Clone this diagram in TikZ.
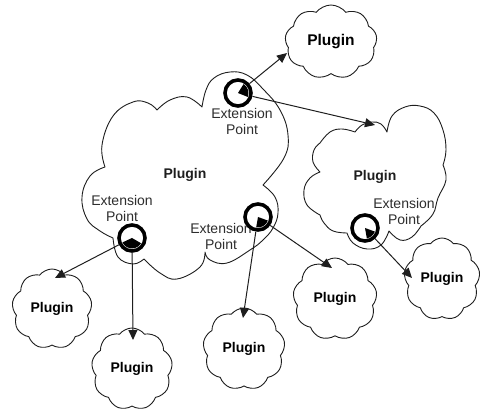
\documentclass[tikz,border=0pt]{standalone}
\usepackage{fontspec}
\setmainfont{Liberation Sans}
\usetikzlibrary{shapes.symbols,arrows.meta}

\definecolor{ink}{RGB}{30,30,30}
\definecolor{labelgray}{RGB}{45,45,45}

\tikzset{
  outline/.style={draw=ink, line width=0.9pt, fill=white, line join=round},
  smallcloud/.style={cloud, cloud puffs=9, cloud puff arc=105, cloud ignores aspect,
    draw=ink, line width=0.9pt, fill=white, inner sep=0pt,
    font=\fontsize{14}{16}\selectfont\bfseries},
  plugintext/.style={font=\fontsize{14}{16}\selectfont\bfseries, text=ink},
  eplabel/.style={font=\fontsize{14}{16}\selectfont, text=labelgray, align=center,
    anchor=north, inner sep=0pt},
  extpoint/.style={circle, draw=black, line width=3.6pt, fill=white,
    minimum size=26pt, inner sep=0pt},
  link/.style={draw=ink, line width=1pt, -{Triangle[length=10pt,width=9pt]}},
}

\begin{document}
\begin{tikzpicture}[x=1pt, y=-1pt]
\useasboundingbox (0,0) rectangle (480,414);

% main plugin cloud, traced bump by bump
\path[outline]
  plot[smooth, tension=0.7] coordinates {(105,167) (102,145) (113,116) (133,102) (148,103) (157,110)}
  -- plot[smooth, tension=0.7] coordinates {(157,110) (170,100) (187,97) (202,107)}
  -- plot[smooth, tension=0.7] coordinates {(202,107) (206,90) (214,78) (230,72) (247,75) (263,89) (280,110) (288,135) (284,158) (263,185)}
  -- plot[smooth, tension=0.7] coordinates {(263,185) (275,197) (278,213) (273,228) (263,240) (250,250) (227,263) (210,260) (205,252)}
  -- plot[smooth, tension=0.7] coordinates {(205,252) (200,267) (177,279) (160,273) (144,259)}
  -- plot[smooth, tension=0.7] coordinates {(144,259) (133,264) (118,257) (113,238)}
  -- plot[smooth, tension=0.7] coordinates {(113,238) (100,231) (87,219) (82,197) (90,176) (105,167)}
  -- cycle;
\node[plugintext] (mainlbl) at (185,175) {Plugin};

% second large plugin cloud
\path[outline]
  plot[smooth, tension=0.7] coordinates {(320,143) (330,132) (342,129) (355,132)}
  -- plot[smooth, tension=0.7] coordinates {(355,132) (362,125) (372,122) (381,124) (387,132)}
  -- plot[smooth, tension=0.7] coordinates {(387,132) (392,116) (405,107) (420,106) (434,113) (443,130) (446,150) (443,165)}
  -- plot[smooth, tension=0.7] coordinates {(443,165) (446,180) (438,198) (433,214) (421,226)}
  -- plot[smooth, tension=0.7] coordinates {(421,226) (412,237) (400,240) (389,231)}
  -- plot[smooth, tension=0.7] coordinates {(389,231) (381,245) (367,249) (353,243) (347,233)}
  -- plot[smooth, tension=0.7] coordinates {(347,233) (333,231) (324,223) (320,215)}
  -- plot[smooth, tension=0.7] coordinates {(320,215) (307,205) (304,190) (310,178) (320,172)}
  -- plot[smooth, tension=0.7] coordinates {(320,172) (313,162) (314,150) (320,143)}
  -- cycle;
\node[plugintext] (rightlbl) at (375,177) {Plugin};

% small plugin clouds
\node[smallcloud, minimum width=92pt, minimum height=74pt,
      font=\fontsize{15.5}{18}\selectfont\bfseries] (ptop) at (331,42) {Plugin};
\node[smallcloud, minimum width=80pt, minimum height=80pt] (pleft)  at (52,309)  {Plugin};
\node[smallcloud, minimum width=81pt, minimum height=82pt] (pbot)   at (132,369) {Plugin};
\node[smallcloud, minimum width=82pt, minimum height=82pt] (pmid)   at (244,349) {Plugin};
\node[smallcloud, minimum width=84pt, minimum height=82pt] (pright) at (335,299) {Plugin};
\node[smallcloud, minimum width=76pt, minimum height=82pt] (pfar)   at (442,279) {Plugin};

% extension point captions
\node[eplabel] (lbla) at (242,108) {Extension\\Point};
\node[eplabel] (lblb) at (122,195) {Extension\\Point};
\node[eplabel] (lblc) at (221,223) {Extension\\Point};
\node[eplabel] (lbld) at (404,198) {Extension\\Point};

% arrow tips on the receiving clouds
\coordinate (tipA1) at (287,53);
\coordinate (tipA2) at (375,125);
\coordinate (tipB1) at (55,278);
\coordinate (tipB2) at (133,340);
\coordinate (tipC1) at (243,318);
\coordinate (tipC2) at (332,268);
\coordinate (tipD1) at (412,278);

% extension point markers
\node[extpoint] (epa) at (238,93) {};
\node[extpoint] (epb) at (132,238) {};
\node[extpoint] (epc) at (258,217) {};
\node[extpoint] (epd) at (365,228) {};

% connectors
\draw[link] (epa) -- (tipA1);
\draw[link] (epa) -- (tipA2);
\draw[link] (epb) -- (tipB1);
\draw[link] (epb) -- (tipB2);
\draw[link] (epc) -- (tipC1);
\draw[link] (epc) -- (tipC2);
\draw[link] (epd) -- (tipD1);

% dark sectors inside the markers
\fill[black] (epa.center) -- ++(-58:10.5) arc[start angle=-58, end angle=22, radius=10.5] -- cycle;
\fill[black] (epb.center) -- ++(30:10.5) arc[start angle=30, end angle=155, radius=10.5] -- cycle;
\fill[black] (epc.center) -- ++(20:10.5) arc[start angle=20, end angle=100, radius=10.5] -- cycle;
\fill[black] (epd.center) -- ++(20:10.5) arc[start angle=20, end angle=80, radius=10.5] -- cycle;
\end{tikzpicture}
\end{document}
